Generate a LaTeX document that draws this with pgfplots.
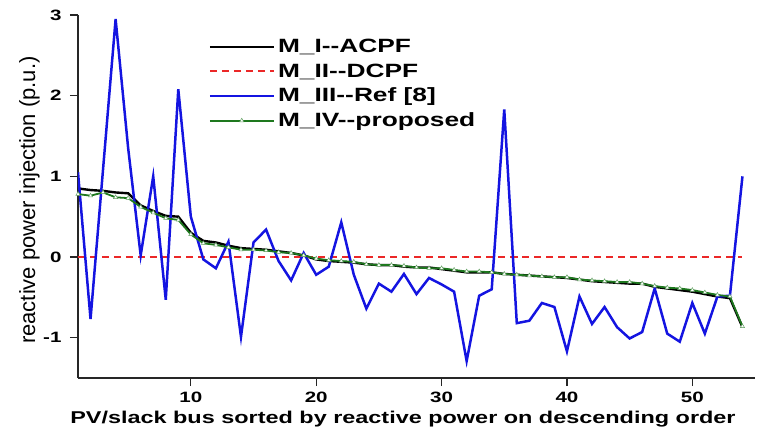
\documentclass[border=0pt]{standalone}
\usepackage{fontspec}
\setmainfont{Liberation Sans}[FakeStretch=1.37]
\newfontfamily\plainsans{Liberation Sans}
\usepackage{pgfplots}
\pgfplotsset{compat=1.18}
\usepackage{pgfplotstable}

\definecolor{refblue}{RGB}{20,20,225}
\definecolor{propgreen}{RGB}{30,120,30}
\definecolor{dcred}{RGB}{235,40,40}

% bus index, M_I (ACPF), M_II (DCPF), M_III (Ref [8]), M_IV (proposed)
\pgfplotstableread{
x  acpf  dcpf  ref   prop
1  0.85  0     1.05  0.78
2  0.83  0    -0.77  0.76
3  0.82  0     1.09  0.80
4  0.80  0     2.95  0.74
5  0.79  0     1.35  0.73
6  0.64  0     0.02  0.62
7  0.57  0     1.00  0.55
8  0.51  0    -0.53  0.48
9  0.50  0     2.08  0.46
10 0.30  0     0.50  0.28
11 0.20  0    -0.03  0.17
12 0.18  0    -0.14  0.15
13 0.14  0     0.19  0.12
14 0.11  0    -0.99  0.09
15 0.10  0     0.18  0.09
16 0.09  0     0.34  0.08
17 0.07  0    -0.05  0.06
18 0.05  0    -0.29  0.05
19 0.02  0     0.05  0.02
20 -0.03 0    -0.22 -0.02
21 -0.05 0    -0.12 -0.04
22 -0.06 0     0.43 -0.05
23 -0.07 0    -0.22 -0.06
24 -0.09 0    -0.64 -0.09
25 -0.10 0    -0.33 -0.10
26 -0.10 0    -0.43 -0.10
27 -0.12 0    -0.21 -0.11
28 -0.13 0    -0.46 -0.13
29 -0.13 0    -0.26 -0.14
30 -0.15 0    -0.34 -0.14
31 -0.17 0    -0.43 -0.16
32 -0.19 0    -1.29 -0.18
33 -0.19 0    -0.48 -0.18
34 -0.19 0    -0.40 -0.19
35 -0.21 0     1.83 -0.21
36 -0.22 0    -0.82 -0.22
37 -0.23 0    -0.79 -0.23
38 -0.24 0    -0.57 -0.24
39 -0.25 0    -0.62 -0.25
40 -0.26 0    -1.17 -0.25
41 -0.28 0    -0.49 -0.28
42 -0.30 0    -0.83 -0.29
43 -0.31 0    -0.62 -0.30
44 -0.32 0    -0.87 -0.31
45 -0.33 0    -1.01 -0.31
46 -0.33 0    -0.93 -0.33
47 -0.37 0    -0.39 -0.36
48 -0.39 0    -0.95 -0.38
49 -0.41 0    -1.05 -0.39
50 -0.43 0    -0.57 -0.41
51 -0.46 0    -0.95 -0.44
52 -0.49 0    -0.49 -0.47
53 -0.51 0    -0.48 -0.49
54 -0.87 0     1.00 -0.86
}\qdata

\begin{document}
\begin{tikzpicture}
\useasboundingbox (-78bp,-55bp) rectangle (681bp,378bp);
\begin{axis}[
  at={(0,0)}, anchor=south west,
  width=677bp, height=363bp, scale only axis,
  xmin=1, xmax=55, ymin=-1.5, ymax=3,
  xtick={10,20,30,40,50}, ytick={-1,0,1,2,3},
  axis x line*=bottom, axis y line*=left,
  axis line style={-, line width=1.3pt, black!85},
  tick style={line width=1.2pt, black!85},
  tick align=outside, major tick length=8bp,
  /pgf/number format/assume math mode=true,
  ticklabel style={font=\bfseries\fontsize{15bp}{17bp}\selectfont},
  yticklabel style={xshift=-5bp},
  xticklabel style={yshift=-3bp},
  xlabel={PV/slack bus sorted by reactive power on descending order},
  xlabel style={font=\bfseries\fontsize{17.1bp}{19bp}\selectfont,
    at={(axis description cs:0.48,-0.124)}, anchor=base},
  ylabel={reactive power injection (p.u.)},
  ylabel style={font=\plainsans\fontsize{22bp}{24bp}\selectfont,
    at={(axis description cs:-0.0635,0.49)}, anchor=base},
  legend style={at={(axis description cs:0.1925,0.942)}, anchor=north west,
    draw=none, fill=none, inner sep=0pt, row sep=3.5bp,
    font=\bfseries\fontsize{19.2bp}{20bp}\selectfont,
    nodes={inner sep=3bp}},
  legend cell align=left,
  legend image code/.code={\draw[mark repeat=2,mark phase=2,#1]
    plot coordinates {(0bp,0bp)(32bp,0bp)(64bp,0bp)};},
]
\addplot[black, line width=2.4pt] table[y=acpf]{\qdata};
\addlegendentry{M\_I-\kern0pt-ACPF}
\addplot[dcred, line width=1.8pt, dash pattern=on 7bp off 5bp] table[y=dcpf]{\qdata};
\addlegendentry{M\_II-\kern0pt-DCPF}
\addplot[refblue, line width=2.5pt] table[y=ref]{\qdata};
\addlegendentry{M\_III-\kern0pt-Ref [8]}
\addplot[propgreen, line width=1.8pt, mark=triangle*, mark size=2.4bp,
  mark options={solid, fill=white, draw=propgreen!70, line width=0.5pt}] table[y=prop]{\qdata};
\addlegendentry{M\_IV-\kern0pt-proposed}
\end{axis}
\end{tikzpicture}
\end{document}
